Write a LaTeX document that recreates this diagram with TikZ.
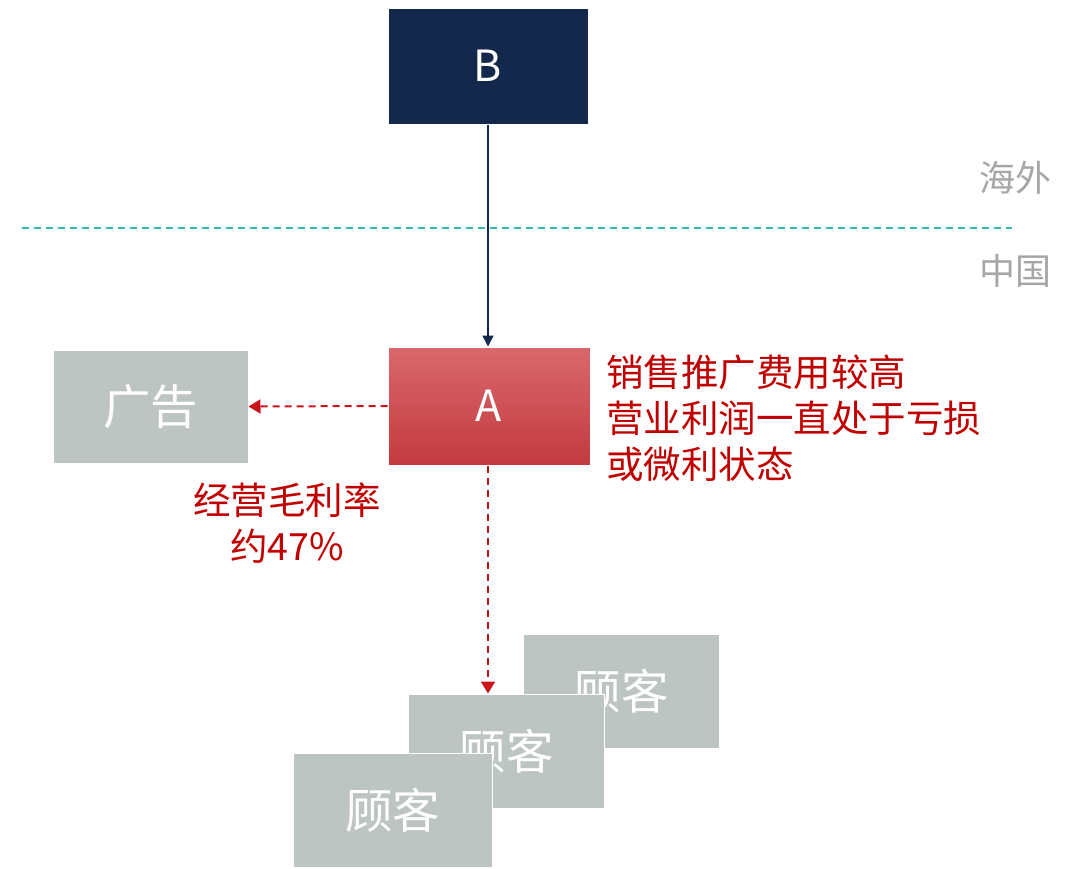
\documentclass[tikz,border=0pt]{standalone}
\usepackage{fontspec}
\setmainfont{Noto Sans CJK SC}
\usetikzlibrary{arrows.meta}
\definecolor{navy}{HTML}{14284B}
\definecolor{boxgray}{HTML}{BCC5C1}
\definecolor{redtop}{HTML}{D9686C}
\definecolor{redbot}{HTML}{C33A3F}
\definecolor{darkred}{HTML}{C00000}
\definecolor{arrred}{HTML}{C8141B}
\definecolor{teal}{HTML}{2DBDB6}
\definecolor{labgray}{HTML}{A6A6A6}
\tikzset{
  box/.style={rectangle, draw=white, line width=1pt, inner sep=0pt, text=white},
  graybox/.style={box, fill=boxgray, minimum width=196pt, minimum height=114pt, font=\fontsize{47.5}{50}\selectfont},
  redtext/.style={text=darkred, font=\fontsize{37.5}{46}\selectfont, align=left, inner sep=0pt},
  dashred/.style={draw=arrred, line width=2pt, dash pattern=on 7pt off 5pt, -{Triangle[width=14pt,length=12pt]}},
  sidelabel/.style={text=labgray, font=\fontsize{36}{40}\selectfont, inner sep=0pt}
}
\begin{document}
\begin{tikzpicture}[x=1pt,y=-1pt]
\useasboundingbox (0,0) rectangle (1079,868);
% border line
\draw[teal, line width=2.2pt, dash pattern=on 7pt off 5pt] (22,228) -- (1012,228);
\node[sidelabel] (haiwai) at (1015,178) {海外};
\node[sidelabel] (zhongguo) at (1015,271) {中国};
% B
\node[box, fill=navy, minimum width=200pt, minimum height=116pt, font=\fontsize{43}{46}\selectfont] (B) at (488,66) {B};
% A
\node[box, top color=redtop, bottom color=redbot, minimum width=202pt, minimum height=118pt, font=\fontsize{43}{46}\selectfont] (A) at (489,406) {A};
% ad
\node[graybox, minimum width=195pt, minimum height=113pt] (ad) at (150.5,406.5) {广告};
% customers
\node[graybox] (c3) at (621,691) {顾客};
\node[graybox] (c2) at (506,751) {顾客};
\node[graybox, minimum width=199pt] (c1) at (392.5,810) {顾客};
% arrows
\draw[navy, line width=1.5pt, -{Triangle[width=11pt,length=11pt]}] (B.south -| 488,0) -- (A.north -| 488,0);
\draw[dashred] (A.west) -- (ad.east);
\draw[dashred] (A.south -| 488,0) -- (c2.north -| 488,0);
% texts
\node[redtext, anchor=north west] (note) at (606,355) {销售推广费用较高\\营业利润一直处于亏损\\或微利状态};
\node[redtext, align=center, anchor=north] (margin) at (287,483) {经营毛利率\\约47\%};
\end{tikzpicture}
\end{document}
